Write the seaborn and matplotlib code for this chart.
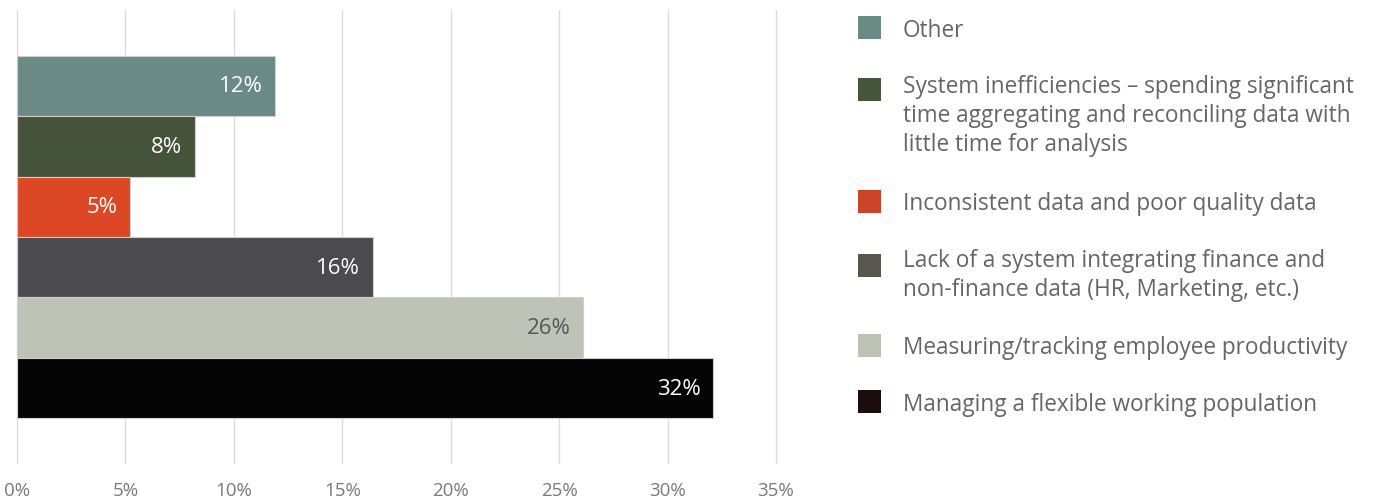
import matplotlib
matplotlib.use("Agg")
import matplotlib.pyplot as plt
from matplotlib.patches import Rectangle
from matplotlib.ticker import FuncFormatter
import seaborn as sns
import pandas as pd

# Survey responses: share of respondents per challenge
categories = [
    "Other",
    "System inefficiencies – spending significant\ntime aggregating and reconciling data with\nlittle time for analysis",
    "Inconsistent data and poor quality data",
    "Lack of a system integrating finance and\nnon-finance data (HR, Marketing, etc.)",
    "Measuring/tracking employee productivity",
    "Managing a flexible working population",
]
shares = [11.9, 8.2, 5.2, 16.4, 26.1, 32.1]
bar_colors = ["#6a8a86", "#44533a", "#dc4826", "#4b4b4d", "#bdc3b7", "#050505"]
legend_colors = ["#6a8a86", "#45553b", "#cc4428", "#57564f", "#bcc2b5", "#1a0d0b"]
label_colors = ["white", "white", "white", "white", "#555555", "white"]
x_ticks = [0, 5, 10, 15, 20, 25, 30, 35]

df = pd.DataFrame({"category": categories, "share": shares})

sns.set_theme(style="white")
plt.rcParams["font.family"] = ["Open Sans", "DejaVu Sans"]

W, H = 1383, 502
fig = plt.figure(figsize=(W / 100, H / 100), dpi=100)
ax = fig.add_axes([17 / W, 1 - 464.3 / H, 759 / W, 453.3 / H])

sns.barplot(
    data=df, x="share", y="category", hue="category", palette=bar_colors,
    orient="h", width=1.0, dodge=False, legend=False, saturation=1, ax=ax,
    edgecolor="#cfcfcf", linewidth=0.8, zorder=3,
)

ax.set_xlim(0, 35)
ax.set_ylim(5.5 + 0.745, -0.5 - 0.757)

ax.set_xticks(x_ticks)
ax.xaxis.set_major_formatter(FuncFormatter(lambda v, _: f"{v:.0f}%"))
ax.tick_params(axis="x", length=0, pad=13, labelsize=13.5, labelcolor="#7a7a7a")
ax.set_yticks([])
ax.set_xlabel("")
ax.set_ylabel("")
ax.grid(axis="x", color="#dcdcdc", linewidth=1.0, zorder=0)
ax.grid(axis="y", visible=False)
ax.set_axisbelow(True)
for gl in ax.get_xgridlines():
    gl.set_clip_on(False)
for s in ax.spines.values():
    s.set_visible(False)

# Value labels inside the bar ends
for i, (v, c) in enumerate(zip(shares, label_colors)):
    ax.annotate(f"{v:.0f}%", xy=(v, i), xytext=(-9, 0), textcoords="offset points",
                ha="right", va="center", fontsize=16, color=c, zorder=4)

# Legend panel on the right: (first-line baseline, marker centre) in pixels from the top
legend_rows = [(36.7, 28.7), (93.3, 90.3), (210, 202.3), (266.7, 266.3), (354, 346.3), (410.7, 402.3)]
line_step = 29
for (yb, ym), lab, col in zip(legend_rows, categories, legend_colors):
    fig.patches.append(Rectangle((858 / W, 1 - (ym + 11.4) / H), 22.7 / W, 22.7 / H,
                                 transform=fig.transFigure, facecolor=col, edgecolor="none"))
    for k, line in enumerate(lab.split("\n")):
        fig.text(903 / W, 1 - (yb + k * line_step) / H, line, ha="left", va="baseline",
                 fontsize=16.3, color="#666666")

fig.savefig("out.png", dpi=100)
